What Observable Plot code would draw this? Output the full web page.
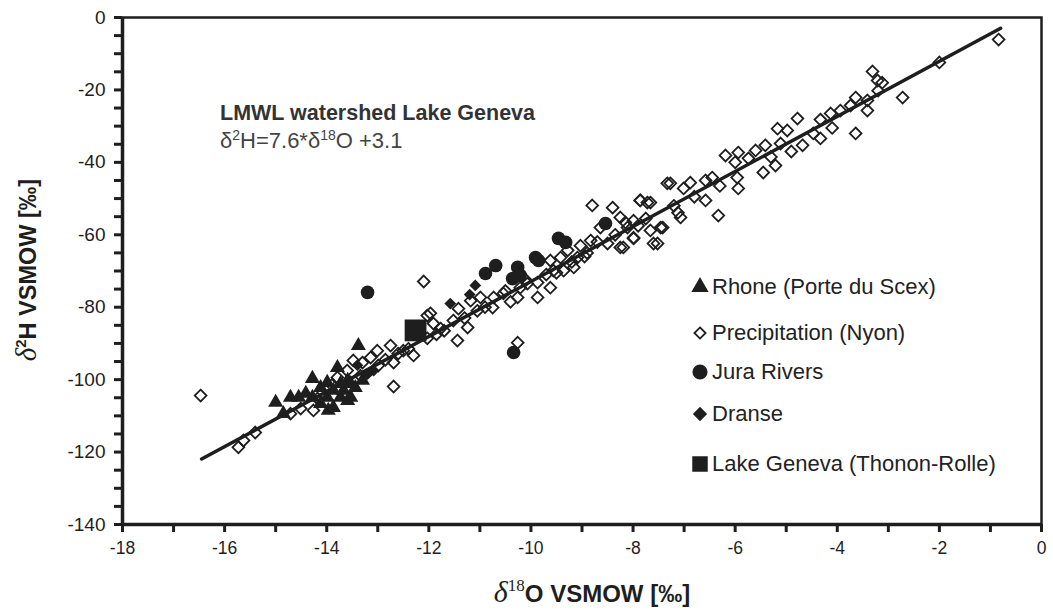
<!DOCTYPE html>
<html>
<head>
<meta charset="utf-8">
<script src="https://cdn.jsdelivr.net/npm/d3@7"></script>
<script src="https://cdn.jsdelivr.net/npm/@observablehq/plot@0.6"></script>
<style>
  body { margin: 0; background: #fff; }
  #wrap { position: relative; width: 1053px; height: 614px; font-family: "Liberation Sans", Arial, sans-serif; }
  .legend-row { position: absolute; left: 691px; display: flex; align-items: center; font-size: 22px; color: #222; white-space: nowrap; transform: translateY(-50%); }
  .legend-row svg { margin-right: 3px; overflow: visible; }
  .note { position: absolute; left: 220px; font-size: 21.5px; color: #333; white-space: nowrap; }
</style>
</head>
<body>
<div id="wrap"></div>
<script>
// δ18O / δ2H (‰ VSMOW) per sample group
const precipX = [-16.47, -15.73, -15.63, -15.4, -14.71, -14.51, -14.26, -14.18, -13.79, -13.48, -13.3, -13.14, -13.01, -12.99,
  -12.75, -12.69, -12.69, -12.3, -12.5, -12.1, -12.03, -12.03, -13.34, -11.97, -11.91, -11.77, -11.52, -11.44, -11.42, -11.24,
  -11.18, -10.99, -10.75, -10.73, -10.54, -10.26, -10.21, -10.07, -9.87, -9.87, -9.62, -9.56, -9.36, -9.62, -9.42, -9.16,
  -9.28, -9.09, -9.03, -8.83, -8.64, -8.5, -8.25, -8.11, -7.99, -7.6, -7.46, -7.33, -7.66, -7.86, -8.25, -8.4, -8.8, -10.26,
  -8.15, -8.19, -7.99, -7.99, -7.86, -7.72, -7.66, -7.52, -7.42, -7.27, -7.01, -7.07, -7.12, -6.88, -6.58, -6.58, -6.45,
  -6.33, -6.19, -5.94, -5.96, -6.0, -5.94, -5.74, -5.6, -5.45, -5.41, -5.21, -5.11, -4.98, -5.17, -4.68, -4.47, -4.33,
  -4.78, -4.33, -4.13, -3.64, -3.94, -3.74, -3.64, -3.41, -3.41, -3.2, -3.12, -3.21, -3.31, -2.72, -2.0, -0.84,
  -12.4, -12.2, -11.7, -11.3, -10.9, -10.5, -10.4, -9.7, -9.2, -8.9, -8.7, -8.35, -7.9, -7.2, -6.8, -6.3, -5.3, -4.9, -4.1, -13.6, -13.9,
  -12.85, -12.6, -11.85, -11.05, -10.1, -9.5, -8.95, -7.75];
const precipY = [-104.4, -118.7, -116.8, -114.6, -109.4, -108.0, -108.5, -105.2, -99.4, -94.7, -95.3, -93.9, -92.0, -96.1,
  -90.6, -95.3, -101.9, -93.3, -92.0, -72.9, -82.3, -88.6, -98.9, -81.7, -84.5, -85.9, -83.7, -89.2, -80.4, -85.6,
  -78.2, -77.3, -80.1, -77.3, -76.2, -77.3, -74.6, -73.5, -73.2, -77.3, -74.6, -69.9, -69.9, -67.1, -66.3, -69.0,
  -64.3, -66.3, -63.0, -61.6, -58.0, -62.4, -63.5, -58.0, -61.0, -62.4, -58.0, -45.8, -51.1, -50.5, -55.2, -52.5, -51.9, -89.8,
  -56.6, -63.5, -56.1, -60.8, -50.5, -51.1, -58.8, -62.4, -58.0, -45.8, -47.2, -55.2, -53.9, -45.6, -45.0, -50.5, -44.2,
  -54.7, -38.1, -37.3, -44.2, -40.0, -47.2, -38.9, -36.7, -42.8, -35.3, -40.9, -34.8, -31.2, -30.7, -35.3, -32.0, -33.4,
  -27.9, -28.2, -26.5, -32.0, -25.7, -24.3, -22.1, -25.7, -22.9, -20.2, -18.0, -17.4, -14.9, -22.1, -12.4, -6.1,
  -91.5, -87.0, -86.5, -83.0, -80.0, -75.5, -78.5, -71.0, -67.5, -65.0, -62.0, -60.0, -57.5, -52.0, -49.5, -46.5, -38.5, -37.0, -30.5, -97.5, -101.5,
  -94.5, -92.8, -87.5, -81.0, -72.5, -70.5, -66.0, -55.5];

const rhoneX = [-15.0, -14.85, -14.28, -14.55, -14.41, -14.12, -13.99, -13.97, -13.87, -13.73, -13.79, -13.67, -13.59, -13.53,
  -13.59, -13.38, -13.44, -13.3, -13.99, -14.12, -14.71, -14.28, -13.87, -13.73, -13.53];
const rhoneY = [-106.3, -109.4, -99.7, -104.9, -103.8, -102.2, -100.8, -108.5, -107.7, -104.9, -96.7, -103.0, -105.8, -104.9,
  -100.2, -90.6, -102.2, -100.2, -104.9, -106.6, -104.9, -104.9, -103.0, -101.1, -101.1];

const juraX = [-13.2, -10.89, -10.69, -10.36, -10.26, -10.21, -9.91, -9.85, -9.46, -9.32, -8.54, -10.34];
const juraY = [-75.9, -70.7, -68.5, -72.1, -69.0, -71.2, -66.3, -67.1, -61.0, -62.1, -56.9, -92.5];

const dranseX = [-11.58, -11.09, -11.2, -13.08, -13.2, -13.4];
const dranseY = [-79.0, -74.0, -76.5, -97.5, -98.5, -96.0];

const lakeX = [-12.26];
const lakeY = [-86.4];

// local meteoric water line: δ2H = 7.6 · δ18O + 3.1
const lmwlSlope = 7.6, lmwlIntercept = 3.1;
const lmwlRange = [-16.45, -0.8];

const xTicks = d3.range(-18, 1, 2);
const xMinorTicks = d3.range(-18, 1, 1);
const yTicks = d3.range(-140, 1, 20);
const yMinorTicks = d3.range(-140, 1, 5);

const legendItems = ["Rhone (Porte du Scex)", "Precipitation (Nyon)", "Jura Rivers", "Dranse", "Lake Geneva (Thonon-Rolle)"];

const pts = (xs, ys) => xs.map((x, i) => ({x, y: ys[i]}));
const lmwl = lmwlRange.map(x => ({x, y: lmwlSlope * x + lmwlIntercept}));

const ink = "#1e1e1e";

const chart = Plot.plot({
  width: 1053,
  height: 614,
  marginLeft: 122,
  marginRight: 12,
  marginTop: 17,
  marginBottom: 90,
  style: {fontFamily: "'Liberation Sans', Arial, sans-serif", color: ink, background: "#fff"},
  x: {domain: [-18, 0]},
  y: {domain: [-140, 0]},
  marks: [
    // outward tick marks every 1 ‰ and every 5 ‰
    Plot.axisX(xMinorTicks, {tickSize: 8, stroke: ink, strokeWidth: 3, tickFormat: () => "", label: null}),
    Plot.axisY(yMinorTicks, {tickSize: 8, stroke: ink, strokeWidth: 3, tickFormat: () => "", label: null}),
    // tick labels
    Plot.axisX(xTicks, {tickSize: 0, tickPadding: 17, fontSize: 17.5, tickFormat: d => String(d), label: null}),
    Plot.axisY(yTicks, {tickSize: 0, tickPadding: 17, fontSize: 19, tickFormat: d => String(d), label: null}),
    Plot.frame({stroke: ink, strokeWidth: 2.5}),
    Plot.ruleX([-18], {stroke: ink, strokeWidth: 3.5}),
    Plot.ruleY([-140], {stroke: ink, strokeWidth: 3.5}),
    Plot.dot(pts(precipX, precipY), {x: "x", y: "y", symbol: "diamond2", r: 5.3, stroke: ink, strokeWidth: 1.8, fill: "none"}),
    Plot.line(lmwl, {x: "x", y: "y", stroke: ink, strokeWidth: 3.5}),
    Plot.dot(pts(rhoneX, rhoneY), {x: "x", y: "y", symbol: "triangle", r: 5.6, fill: ink, stroke: "none"}),
    Plot.dot(pts(juraX, juraY), {x: "x", y: "y", symbol: "circle", r: 6.8, fill: ink, stroke: "none"}),
    Plot.dot(pts(dranseX, dranseY), {x: "x", y: "y", symbol: "diamond2", r: 5.3, fill: ink, stroke: "none"}),
    Plot.dot(pts(lakeX, lakeY), {x: "x", y: "y", symbol: "square", r: 12.3, fill: ink, stroke: "none"})
  ]
});

const wrap = document.getElementById("wrap");
wrap.appendChild(chart);

// tick labels use the text colour rather than the tick stroke
const svg = d3.select(chart);
svg.selectAll("[aria-label='x-axis tick label'], [aria-label='y-axis tick label']").attr("stroke", "none").attr("fill", ink);

// axis titles with δ and superscript isotope numbers
const xt = svg.append("text").attr("x", 592).attr("y", 602).attr("text-anchor", "middle").attr("fill", ink);
xt.append("tspan").attr("font-family", "'Liberation Serif', serif").attr("font-style", "italic").attr("font-size", 30).text("δ");
xt.append("tspan").attr("font-family", "'Liberation Serif', serif").attr("font-size", 17).attr("dy", -11).text("18");
xt.append("tspan").attr("font-family", "'Liberation Sans', sans-serif").attr("font-weight", "bold").attr("font-size", 24).attr("dy", 11).text("O VSMOW [‰]");

const yt = svg.append("text").attr("transform", "translate(36,270) rotate(-90)").attr("text-anchor", "middle").attr("fill", ink);
yt.append("tspan").attr("font-family", "'Liberation Serif', serif").attr("font-style", "italic").attr("font-size", 29).text("δ");
yt.append("tspan").attr("font-family", "'Liberation Sans', sans-serif").attr("font-weight", "bold").attr("font-size", 15).attr("dy", -10).text("2");
yt.append("tspan").attr("font-family", "'Liberation Sans', sans-serif").attr("font-weight", "bold").attr("font-size", 23.5).attr("dy", 10).text("H VSMOW [‰]");

// equation note
const n1 = document.createElement("div");
n1.className = "note"; n1.style.top = "101px"; n1.style.fontWeight = "bold";
n1.textContent = "LMWL watershed Lake Geneva";
wrap.appendChild(n1);
const n2 = document.createElement("div");
n2.className = "note"; n2.style.top = "127px"; n2.style.color = "#444"; n2.style.fontSize = "22px";
n2.innerHTML = "δ<sup style='font-size:14px'>2</sup>H=7.6*δ<sup style='font-size:14px'>18</sup>O +3.1";
wrap.appendChild(n2);

// legend
const legendSymbols = [
  {type: d3.symbolTriangle, size: 130, fill: ink, stroke: "none"},
  {type: d3.symbolDiamond2, size: 80, fill: "none", stroke: ink},
  {type: d3.symbolCircle, size: 180, fill: ink, stroke: "none"},
  {type: d3.symbolDiamond2, size: 130, fill: ink, stroke: "none"},
  {type: d3.symbolSquare, size: 240, fill: ink, stroke: "none"}
];
const rowTops = [287, 333, 372, 414, 464];
legendItems.forEach((label, i) => {
  const row = document.createElement("div");
  row.className = "legend-row";
  row.style.top = rowTops[i] + "px";
  const s = legendSymbols[i];
  const path = d3.symbol(s.type, s.size)();
  row.innerHTML = `<svg width="18" height="18" viewBox="-9 -9 18 18"><path d="${path}" fill="${s.fill}" stroke="${s.stroke}" stroke-width="1.8"/></svg><span>${label}</span>`;
  wrap.appendChild(row);
});
</script>
</body>
</html>
